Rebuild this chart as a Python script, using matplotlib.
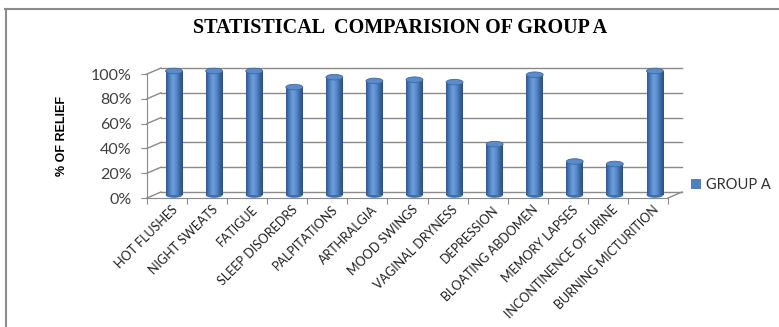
import numpy as np
import matplotlib
matplotlib.use("Agg")
import matplotlib.pyplot as plt
from matplotlib.transforms import offset_copy
from matplotlib.patches import Ellipse, Patch
from matplotlib.lines import Line2D
from matplotlib.colors import LinearSegmentedColormap

categories = ["HOT FLUSHES", "NIGHT SWEATS", "FATIGUE", "SLEEP DISOREDRS",
              "PALPITATIONS", "ARTHRALGIA", "MOOD SWINGS", "VAGINAL DRYNESS",
              "DEPRESSION", "BLOATING ABDOMEN", "MEMORY LAPSES",
              "INCONTINENCE OF URINE", "BURNING MICTURITION"]
relief = [100, 100, 100, 87, 95, 92, 93, 91, 41, 97, 27, 25, 100]
yticks = [0, 20, 40, 60, 80, 100]
ytick_labels = ["0%", "20%", "40%", "60%", "80%", "100%"]
series_name = "GROUP A"
title = "STATISTICAL  COMPARISION OF GROUP A"
ylabel = "% OF RELIEF"

W, H, DPI = 779, 327, 100
fig = plt.figure(figsize=(W / DPI, H / DPI), dpi=DPI)

# outer chart frame
fig.add_artist(Line2D([5 / W, 1], [1 - 9 / H, 1 - 9 / H], color="#8c8c8c", lw=1.5))
fig.add_artist(Line2D([6 / W, 6 / W], [0, 1 - 9 / H], color="#8c8c8c", lw=1.5))

x0, x1, yb, yt = 147, 668, 198, 74
ax = fig.add_axes([x0 / W, 1 - yb / H, (x1 - x0) / W, (yb - yt) / H])
n = len(categories)
xs = np.arange(n)
ax.set_xlim(-0.5, n - 0.5)
ax.set_ylim(0, 100)

DX, DY = 14, 6
back = offset_copy(ax.transData, fig=fig, x=DX, y=DY, units="dots")
mid = offset_copy(ax.transData, fig=fig, x=DX / 2, y=DY / 2, units="dots")
grid_c = "#8a8a8a"
pf = fig.transFigure.inverted()

# back wall gridlines
for v in yticks:
    ax.plot([-0.5, n - 0.5], [v, v], color=grid_c, lw=1.0, transform=back,
            clip_on=False, zorder=1)
# depth diagonals from the front axis to the back wall
for v in yticks:
    p0 = ax.transData.transform((-0.5, v))
    p1 = p0 + np.array([DX, DY])
    a = pf.transform(p0); b = pf.transform(p1)
    fig.add_artist(Line2D([a[0], b[0]], [a[1], b[1]], color=grid_c, lw=1.0))
# floor right diagonal
p0 = ax.transData.transform((n - 0.5, 0))
p1 = p0 + np.array([DX, DY])
a = pf.transform(p0); b = pf.transform(p1)
fig.add_artist(Line2D([a[0], b[0]], [a[1], b[1]], color=grid_c, lw=1.0))

# bars with cylinder shading
cmap = LinearSegmentedColormap.from_list(
    "cyl", ["#2c5a92", "#4a7fc0", "#6f9fdb", "#5b8ccc", "#3b6aa6", "#27507f"])
grad = np.linspace(0, 1, 64).reshape(1, -1)
bw = 0.42
bars = ax.bar(xs, relief, width=bw, color="#4f81bd", edgecolor="none",
              transform=mid, zorder=3, clip_on=False)
eh = 4.5
for rect, v, xc in zip(bars, relief, xs):
    im = ax.imshow(grad, cmap=cmap, aspect="auto",
                   extent=[xc - bw / 2, xc + bw / 2, 0, v],
                   transform=mid, zorder=4, interpolation="bilinear")
    im.set_clip_on(False)
    im.set_clip_path(rect)
    im.set_clip_box(None)
    ax.add_patch(Ellipse((xc, 0), bw, eh, facecolor="#3f6fac", edgecolor="none",
                         transform=mid, zorder=3.5, clip_on=False))
    ax.add_patch(Ellipse((xc, v), bw, eh, facecolor="#5a8bcb",
                         edgecolor="#3d6aa3", lw=0.6, transform=mid, zorder=5,
                         clip_on=False))
ax.set_xlim(-0.5, n - 0.5)
ax.set_ylim(0, 100)

# axes styling
for s in ["top", "right"]:
    ax.spines[s].set_visible(False)
ax.spines["left"].set_color(grid_c)
ax.spines["bottom"].set_color(grid_c)
ax.set_yticks(yticks)
ax.set_yticklabels(ytick_labels, fontsize=11.5, color="#404040", family="Lato")
ax.tick_params(axis="y", length=4, color=grid_c, pad=7)
ax.set_xticks(np.arange(n + 1) - 0.5, minor=False)
ax.set_xticklabels([])
ax.tick_params(axis="x", length=4, color=grid_c, direction="out")
for xc, lab in zip(xs, categories):
    ax.annotate(lab, xy=(xc, 0), xycoords="data", xytext=(3, -4),
                textcoords="offset points", rotation=45, ha="right",
                va="top", rotation_mode="anchor", fontsize=9,
                color="#202020", family="Lato", annotation_clip=False)

fig.text(400 / W, 1 - 28 / H, title, ha="center", va="center",
         family="Liberation Serif", fontweight="bold", fontsize=14.5)
fig.text(62 / W, 1 - 136 / H, ylabel, rotation=90, ha="center", va="center",
         family="Liberation Sans", fontweight="bold", fontsize=9)

fig.legend(handles=[Patch(facecolor="#4f81bd", edgecolor="none")],
           labels=[series_name], loc="center left",
           bbox_to_anchor=(678 / W, 1 - 185 / H), frameon=False,
           handlelength=0.7, handleheight=0.7, handletextpad=0.35,
           prop={"family": "Lato", "size": 10.5}, labelcolor="#303030")

fig.savefig("out.png", dpi=DPI)
